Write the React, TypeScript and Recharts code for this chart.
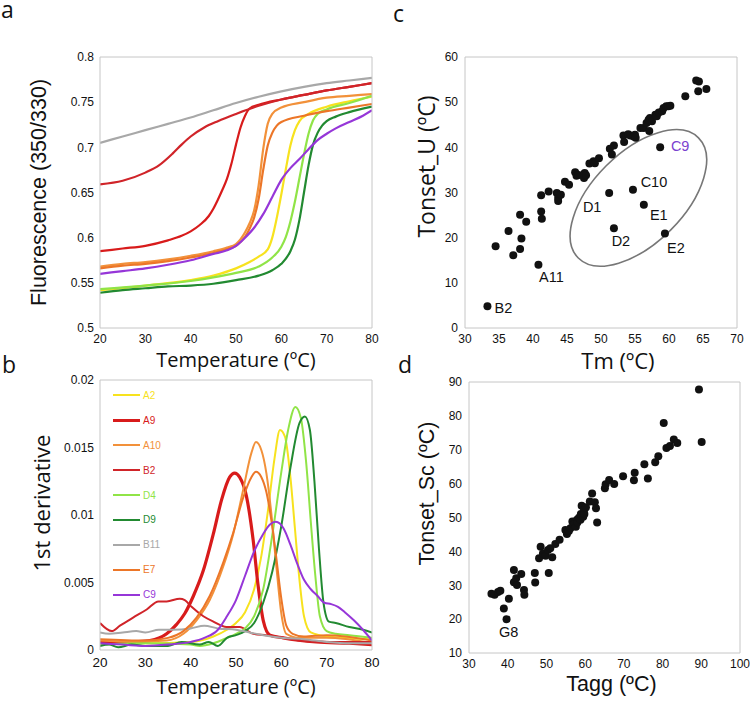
import React from "react";
import {
  LineChart,
  Line,
  ScatterChart,
  Scatter,
  XAxis,
  YAxis,
  ReferenceDot,
  Label,
} from "recharts";

type Pt = [number, number];

const sampleNames = ["A2", "A9", "A10", "B2", "D4", "D9", "B11", "E7", "C9"];

// a: fluorescence ratio 350/330 against temperature
const fluorA2: Pt[] = [[20, 0.542], [30, 0.547], [40, 0.553], [45, 0.558], [50, 0.566], [53, 0.573], [55, 0.579], [57, 0.587], [58, 0.6], [59, 0.622], [60, 0.648], [61, 0.676], [62, 0.702], [63, 0.719], [64, 0.729], [66, 0.737], [70, 0.745], [75, 0.751], [80, 0.756]];
const fluorA9: Pt[] = [[20, 0.585], [25, 0.588], [30, 0.591], [35, 0.597], [38, 0.602], [40, 0.607], [42, 0.614], [44, 0.624], [45, 0.632], [46, 0.642], [47, 0.653], [48, 0.665], [49, 0.682], [50, 0.703], [51, 0.722], [52, 0.735], [53, 0.743], [55, 0.747], [60, 0.753], [65, 0.758], [70, 0.763], [75, 0.767], [80, 0.771]];
const fluorA10: Pt[] = [[20, 0.568], [25, 0.571], [30, 0.573], [35, 0.576], [40, 0.58], [45, 0.585], [48, 0.589], [50, 0.593], [52, 0.606], [53, 0.616], [54, 0.63], [55, 0.658], [56, 0.698], [57, 0.726], [58, 0.737], [60, 0.744], [65, 0.75], [70, 0.755], [75, 0.757], [80, 0.759]];
const fluorB2: Pt[] = [[20, 0.659], [25, 0.663], [30, 0.672], [33, 0.68], [36, 0.693], [38, 0.703], [40, 0.712], [43, 0.722], [46, 0.729], [50, 0.737], [55, 0.746], [60, 0.753], [65, 0.758], [70, 0.763], [75, 0.767], [80, 0.771]];
const fluorD4: Pt[] = [[20, 0.543], [30, 0.547], [40, 0.552], [45, 0.556], [50, 0.561], [55, 0.568], [58, 0.578], [60, 0.59], [61, 0.601], [62, 0.618], [63, 0.64], [64, 0.666], [65, 0.692], [66, 0.715], [67, 0.73], [68, 0.737], [70, 0.742], [75, 0.749], [80, 0.757]];
const fluorD9: Pt[] = [[20, 0.539], [25, 0.542], [30, 0.544], [35, 0.546], [40, 0.547], [45, 0.549], [50, 0.553], [55, 0.558], [58, 0.564], [60, 0.571], [62, 0.585], [63, 0.598], [64, 0.62], [65, 0.65], [66, 0.68], [67, 0.703], [68, 0.716], [69, 0.724], [70, 0.729], [72, 0.734], [75, 0.739], [80, 0.745]];
const fluorB11: Pt[] = [[20, 0.705], [25, 0.712], [30, 0.719], [35, 0.726], [40, 0.733], [45, 0.741], [50, 0.749], [55, 0.756], [60, 0.762], [65, 0.767], [70, 0.771], [75, 0.774], [80, 0.777]];
const fluorE7: Pt[] = [[20, 0.566], [25, 0.569], [30, 0.571], [35, 0.574], [40, 0.578], [45, 0.583], [48, 0.587], [50, 0.591], [52, 0.601], [53, 0.61], [54, 0.622], [55, 0.643], [56, 0.675], [57, 0.702], [58, 0.716], [59, 0.724], [60, 0.728], [65, 0.735], [70, 0.74], [75, 0.744], [80, 0.748]];
const fluorC9: Pt[] = [[20, 0.56], [25, 0.563], [30, 0.566], [35, 0.57], [40, 0.575], [45, 0.582], [48, 0.586], [50, 0.591], [52, 0.6], [54, 0.611], [56, 0.626], [58, 0.645], [60, 0.664], [62, 0.677], [64, 0.687], [66, 0.698], [68, 0.708], [70, 0.715], [72, 0.721], [75, 0.728], [78, 0.735], [80, 0.741]];

// b: first derivative of the ratio
const derivA2: Pt[] = [[20, 0.0005], [30, 0.0005], [40, 0.0006], [45, 0.001], [48, 0.0015], [50, 0.002], [52, 0.0028], [54, 0.0045], [55.5, 0.0068], [57, 0.0102], [58.5, 0.0142], [59.7, 0.0163], [60.8, 0.0158], [62, 0.0128], [63, 0.009], [64, 0.0052], [65, 0.0025], [66.5, 0.0013], [70, 0.001], [80, 0.0008]];
const derivA9: Pt[] = [[20, 0.0006], [23.7, 0.0005], [27.3, 0.0006], [31, 0.0007], [34.7, 0.0012], [36.9, 0.0019], [38.7, 0.0027], [40.6, 0.004], [42.8, 0.0059], [45, 0.0086], [46.8, 0.0111], [48.6, 0.0128], [49.7, 0.0131], [50.8, 0.0128], [52.3, 0.0114], [53.8, 0.0081], [54.9, 0.0047], [56, 0.0022], [57.5, 0.0011], [60.4, 0.0009], [67.7, 0.0006], [75, 0.0005], [80, 0.0004]];
const derivA10: Pt[] = [[20, 0.0007], [27, 0.0006], [34.7, 0.0007], [38.4, 0.0012], [41.3, 0.0022], [44.2, 0.0037], [47.2, 0.0062], [49.4, 0.0086], [51.6, 0.0119], [53.4, 0.0146], [54.4, 0.0154], [55.6, 0.0148], [56.7, 0.0131], [57.8, 0.0101], [58.9, 0.0062], [60, 0.0027], [61.1, 0.0012], [64.1, 0.0009], [70, 0.0009], [80, 0.0005]];
const derivB2: Pt[] = [[20, 0.002], [22.6, 0.0014], [24.4, 0.0018], [27.3, 0.0024], [30.3, 0.003], [32.9, 0.0036], [34.7, 0.0036], [37.6, 0.0038], [38.7, 0.0037], [40.2, 0.0032], [42.8, 0.0025], [45, 0.0021], [47.9, 0.0017], [50.8, 0.0017], [53.8, 0.0012], [56.7, 0.0011], [60.4, 0.0009], [64, 0.0007], [67.7, 0.0006], [80, 0.0006]];
const derivD4: Pt[] = [[20, 0.0004], [30, 0.0005], [40, 0.0004], [42, 0.0003], [45, 0.0005], [48, 0.0009], [50, 0.0012], [52, 0.0016], [54, 0.0025], [56, 0.0045], [58, 0.0085], [60, 0.0132], [61.5, 0.0163], [63.1, 0.018], [64.3, 0.0172], [65.5, 0.0138], [66.5, 0.0095], [67.5, 0.0055], [68.5, 0.0025], [70, 0.0014], [72, 0.0012], [75, 0.0011], [80, 0.0009]];
const derivD9: Pt[] = [[20, 0.0003], [22, 0.0004], [24, 0.0002], [27, 0.0004], [30, 0.0003], [35, 0.0003], [38, 0.0006], [42, 0.0004], [44, 0.0006], [46, 0.0003], [48, 0.0009], [50, 0.0011], [52, 0.0014], [54, 0.002], [56, 0.0035], [58, 0.0058], [60, 0.0092], [62, 0.0135], [64, 0.0168], [65.2, 0.0173], [66.3, 0.0163], [67.3, 0.0125], [68.3, 0.0075], [69.3, 0.0035], [70.5, 0.0021], [72, 0.002], [75, 0.0017], [78, 0.0015], [80, 0.0013]];
const derivB11: Pt[] = [[20, 0.0013], [22, 0.0012], [25, 0.0013], [28, 0.0014], [30, 0.0013], [33, 0.0015], [36, 0.0015], [40, 0.0016], [43, 0.0018], [46, 0.0016], [50, 0.0015], [53, 0.0013], [56, 0.0011], [60, 0.0009], [65, 0.0008], [70, 0.0006], [75, 0.0005], [80, 0.0005]];
const derivE7: Pt[] = [[20, 0.0008], [30, 0.0007], [35, 0.0009], [38.4, 0.0014], [41.3, 0.0024], [44.2, 0.004], [47.2, 0.0065], [49.4, 0.0087], [51.6, 0.0113], [53.4, 0.0128], [54.4, 0.0132], [55.6, 0.0128], [56.7, 0.0117], [57.8, 0.0096], [58.9, 0.0068], [60, 0.0038], [61.1, 0.0018], [62.5, 0.0012], [65, 0.001], [70, 0.0011], [80, 0.0007]];
const derivC9: Pt[] = [[20, 0.0005], [25, 0.0004], [30, 0.0003], [35, 0.0004], [40, 0.0006], [43, 0.0009], [46, 0.0015], [48, 0.0025], [50, 0.0037], [52, 0.0055], [54, 0.0073], [56, 0.0086], [57.5, 0.0093], [58.8, 0.0095], [60.5, 0.009], [62, 0.0078], [63.5, 0.0064], [65, 0.0052], [66.5, 0.0045], [68, 0.004], [69.5, 0.0035], [71, 0.0034], [72.5, 0.0032], [74, 0.0028], [76, 0.0022], [78, 0.0015], [80, 0.0007]];

const fluorCurves = [fluorA2, fluorA9, fluorA10, fluorB2, fluorD4, fluorD9, fluorB11, fluorE7, fluorC9];
const derivCurves = [derivA2, derivA9, derivA10, derivB2, derivD4, derivD9, derivB11, derivE7, derivC9];

// c: Tonset_U against Tm
const tmTonset: Pt[] = [
  [34.5, 18.1], [36.4, 21.5], [37.1, 16.1], [38.1, 25.1], [38.1, 17.5], [38.3, 19.8], [39.0, 23.5],
  [41.2, 29.4], [41.2, 25.8], [41.3, 24.2], [42.3, 30.2], [43.5, 29.9], [43.7, 28.8], [43.7, 28.1],
  [44.1, 29.5], [44.7, 32.4], [45.3, 31.7], [46.2, 34.5], [46.4, 33.7], [46.7, 33.9], [47.6, 34.3],
  [47.5, 33.2], [47.8, 33.8], [48.3, 36.4], [48.9, 36.9], [49.1, 36.5], [49.7, 37.6], [51.3, 39.7],
  [51.6, 38.4], [51.9, 40.4], [53.3, 42.6], [53.4, 41.2], [54.0, 42.9], [54.3, 42.6], [54.8, 42.4],
  [55.0, 42.8], [55.1, 42.1], [55.8, 44.3], [56.3, 44.3], [56.7, 45.4], [57.0, 46.1], [57.1, 43.6],
  [57.2, 46.5], [57.5, 45.8], [58.0, 47.2], [58.2, 46.9], [58.5, 47.7], [59.0, 48.0], [59.2, 48.7],
  [59.6, 49.1], [59.9, 49.1], [60.2, 49.2], [62.4, 51.3], [64.0, 54.8], [64.4, 54.6], [64.3, 52.4],
  [65.5, 52.9],
];
const tmTonsetNamed: [string, number, number][] = [
  ["B2", 33.3, 4.8], ["A11", 40.8, 14.0], ["D1", 51.2, 29.9], ["D2", 51.9, 22.1],
  ["C10", 54.7, 30.6], ["E1", 56.3, 27.3], ["E2", 59.4, 20.9], ["C9", 58.7, 40.0],
];
const outlierCentre: Pt = [55.5, 28.8];

// d: Tonset_Sc against Tagg
const taggTonset: Pt[] = [
  [35.8, 27.5], [36.6, 27.2], [37.5, 28.0], [38.1, 28.4], [40.3, 26.0], [39.0, 23.1],
  [41.6, 34.5], [41.6, 30.9], [42.2, 32.1], [42.4, 30.1], [43.5, 33.3], [44.2, 28.6], [44.3, 27.2],
  [47.0, 33.6], [47.1, 30.8], [48.1, 38.0], [48.5, 41.4], [49.1, 39.4], [49.8, 38.7], [50.4, 40.4],
  [50.6, 33.6], [51.0, 40.9], [51.5, 38.3], [52.3, 42.2], [53.4, 43.4], [54.9, 46.3], [55.3, 45.1],
  [55.8, 46.0], [56.2, 46.8], [56.7, 48.8], [57.0, 48.0], [57.3, 48.3], [57.6, 47.3], [57.9, 49.3],
  [58.0, 48.5], [58.4, 49.9], [58.8, 49.3], [58.9, 51.0], [59.1, 53.5], [59.5, 50.2], [59.7, 52.2],
  [59.8, 51.0], [60.2, 53.0], [61.2, 54.7], [61.8, 57.1], [62.5, 54.5], [62.8, 52.7], [63.1, 48.5],
  [65.1, 58.6], [65.3, 59.8], [66.2, 61.1], [67.5, 59.9], [69.8, 62.2], [72.6, 61.0], [72.8, 63.2],
  [75.3, 65.7], [76.2, 61.5], [78.1, 66.3], [78.9, 68.1], [80.3, 77.9], [81.0, 70.5], [81.9, 71.1],
  [82.9, 73.0], [83.8, 72.0], [89.4, 87.8], [90.1, 72.3],
];
const taggTonsetNamed: [string, number, number][] = [["G8", 39.7, 20.0]];

const tempTicks = [20, 30, 40, 50, 60, 70, 80];
const fluorTicks = [0.5, 0.55, 0.6, 0.65, 0.7, 0.75, 0.8];
const derivTicks = [0, 0.005, 0.01, 0.015, 0.02];
const tmTicks = [30, 35, 40, 45, 50, 55, 60, 65, 70];
const tonsetUTicks = [0, 10, 20, 30, 40, 50, 60];
const taggTicks = [30, 40, 50, 60, 70, 80, 90, 100];
const tonsetScTicks = [10, 20, 30, 40, 50, 60, 70, 80, 90];

const COLORS: Record<string, string> = {
  A2: "#f7e21e",
  A9: "#d81b1b",
  A10: "#f2913a",
  B2: "#d02429",
  D4: "#90e447",
  D9: "#228a31",
  B11: "#a8a8a8",
  E7: "#ec7628",
  C9: "#9636d8",
};
const LABEL_COLORS: Record<string, string> = { C9: "#7a42cf" };
// label offsets from the dot centre, px
const LABEL_OFFSETS: Record<string, Pt> = {
  B2: [16, 2], A11: [13, 12], D1: [-17, 14], D2: [7, 13], C10: [21, -8],
  E1: [15, 10], E2: [11, 14], C9: [20, -1], G8: [2, 13],
};

const FRAME = "#c6c6c6";
const TICKLINE = "#a0a0a0";
const INK = "#111";
const SANS = "'Liberation Sans', Arial, sans-serif";
const MYRIAD = "'Open Sans', 'Noto Sans', sans-serif";

const rows = (pts: Pt[]) => pts.map(([t, v]) => ({ t, v }));
const xy = (pts: Pt[]) => pts.map(([x, y]) => ({ x, y }));
const named = (pts: [string, number, number][]) => pts.map(([name, x, y]) => ({ name, x, y }));

function frameAxes(xd: Pt, xt: number[], yd: Pt, yt: number[], tickLen: number) {
  const common = {
    type: "number" as const,
    allowDataOverflow: true,
    tick: false,
    interval: 0 as const,
    tickSize: tickLen,
    tickLine: tickLen > 0 ? { stroke: TICKLINE } : false,
    stroke: FRAME,
  };
  return [
    <XAxis key="xt" xAxisId="xt" orientation="top" mirror domain={xd} ticks={xt} {...common} />,
    <XAxis key="xb" xAxisId="xb" orientation="bottom" mirror domain={xd} ticks={xt} {...common} axisLine={false} />,
    <YAxis key="yr" yAxisId="yr" orientation="right" mirror domain={yd} ticks={yt} {...common} />,
    <YAxis key="yl" yAxisId="yl" orientation="left" mirror domain={yd} ticks={yt} {...common} axisLine={false} />,
  ];
}

const dotShape = (p: any) => <circle cx={p.cx} cy={p.cy} r={4} fill={INK} />;
const namedDotShape = (p: any) => {
  const name = p.payload?.name ?? "";
  const off = LABEL_OFFSETS[name] ?? [10, 0];
  return (
    <g>
      <circle cx={p.cx} cy={p.cy} r={4} fill={INK} />
      <text
        x={p.cx + off[0]}
        y={p.cy + off[1]}
        textAnchor="middle"
        dominantBaseline="central"
        fontSize={14.5}
        fontFamily={SANS}
        fill={LABEL_COLORS[name] ?? INK}
      >
        {name}
      </text>
    </g>
  );
};

function PanelA() {
  return (
    <LineChart width={380} height={380} margin={{ top: 57, right: 8, bottom: 0, left: 0 }}>
      <XAxis xAxisId="x" dataKey="t" type="number" domain={[20, 80]} ticks={tempTicks} interval={0}
        allowDataOverflow height={52} tickLine={false} tickSize={0} tickMargin={6} stroke={FRAME}
        tick={{ fontSize: 12, fill: INK, fontFamily: SANS }}>
        <Label value="Temperature (ºC)" position="center" dy={6} fontSize={20} fontFamily={MYRIAD} fill={INK} />
      </XAxis>
      <YAxis yAxisId="y" type="number" domain={[0.5, 0.8]} ticks={fluorTicks} interval={0}
        allowDataOverflow width={100} tickLine={false} tickSize={0} tickMargin={6} stroke={FRAME}
        tick={{ fontSize: 12, fill: INK, fontFamily: SANS }}>
        <Label value="Fluorescence (350/330)" angle={-90} position="center" dx={-12} fontSize={21.5} fontFamily={SANS} fill={INK} />
      </YAxis>
      {frameAxes([20, 80], tempTicks, [0.5, 0.8], fluorTicks, 5)}
      {fluorCurves.map((pts, i) => (
        <Line key={sampleNames[i]} xAxisId="x" yAxisId="y" data={rows(pts)} dataKey="v" type="monotone"
          stroke={COLORS[sampleNames[i]]} strokeWidth={2.2} dot={false} isAnimationActive={false} />
      ))}
    </LineChart>
  );
}

function PanelB() {
  return (
    <LineChart width={380} height={361} margin={{ top: 40, right: 8, bottom: 0, left: 0 }}>
      <XAxis xAxisId="x" dataKey="t" type="number" domain={[20, 80]} ticks={tempTicks} interval={0}
        allowDataOverflow height={51} tickLine={false} tickSize={0} tickMargin={7} stroke={FRAME}
        tick={{ fontSize: 13.5, fill: INK, fontFamily: SANS }}>
        <Label value="Temperature (ºC)" position="center" dy={11} fontSize={20} fontFamily={MYRIAD} fill={INK} />
      </XAxis>
      <YAxis yAxisId="y" type="number" domain={[0, 0.02]} ticks={derivTicks} interval={0}
        allowDataOverflow width={100} tickLine={false} tickSize={0} tickMargin={6} stroke={FRAME}
        tick={{ fontSize: 12, fill: INK, fontFamily: SANS }}>
        <Label value="1st derivative" angle={-90} position="center" dx={-8} dy={-12} fontSize={22} fontFamily={MYRIAD} fill={INK} />
      </YAxis>
      {frameAxes([20, 80], tempTicks, [0, 0.02], derivTicks, 5)}
      {derivCurves.map((pts, i) => (
        <Line key={sampleNames[i]} xAxisId="x" yAxisId="y" data={rows(pts)} dataKey="v" type="monotone"
          stroke={COLORS[sampleNames[i]]} strokeWidth={sampleNames[i] === "A9" ? 3.2 : 2}
          dot={false} isAnimationActive={false} />
      ))}
    </LineChart>
  );
}

function PanelC() {
  return (
    <ScatterChart width={370} height={380} margin={{ top: 57, right: 13, bottom: 0, left: 0 }}>
      <XAxis xAxisId="x" dataKey="x" type="number" domain={[30, 70]} ticks={tmTicks} interval={0}
        allowDataOverflow height={52} tickLine={false} tickSize={0} tickMargin={6} stroke={FRAME}
        tick={{ fontSize: 12, fill: INK, fontFamily: SANS }}>
        <Label value="Tm (ºC)" position="center" dx={17} dy={7} fontSize={22} fontFamily={MYRIAD} fill={INK} />
      </XAxis>
      <YAxis yAxisId="y" dataKey="y" type="number" domain={[0, 60]} ticks={tonsetUTicks} interval={0}
        allowDataOverflow width={85} tickLine={false} tickSize={0} tickMargin={7} stroke={FRAME}
        tick={{ fontSize: 12, fill: INK, fontFamily: SANS }}>
        <Label value="Tonset_U (ºC)" angle={-90} position="center" dx={4} dy={-26} fontSize={23} fontFamily={MYRIAD} fill={INK} />
      </YAxis>
      {frameAxes([30, 70], tmTicks, [0, 60], tonsetUTicks, 0)}
      <ReferenceDot xAxisId="x" yAxisId="y" x={outlierCentre[0]} y={outlierCentre[1]} ifOverflow="visible"
        shape={(p: any) => (
          <ellipse cx={p.cx} cy={p.cy} rx={85} ry={45.5} fill="none" stroke="#777" strokeWidth={1.6}
            transform={`rotate(-45 ${p.cx} ${p.cy})`} />
        )} />
      <Scatter xAxisId="x" yAxisId="y" data={xy(tmTonset)} shape={dotShape} isAnimationActive={false} />
      <Scatter xAxisId="x" yAxisId="y" data={named(tmTonsetNamed)} shape={namedDotShape} isAnimationActive={false} />
    </ScatterChart>
  );
}

function PanelD() {
  return (
    <ScatterChart width={370} height={361} margin={{ top: 42, right: 10, bottom: 0, left: 0 }}>
      <XAxis xAxisId="x" dataKey="x" type="number" domain={[30, 100]} ticks={taggTicks} interval={0}
        allowDataOverflow height={48} tickLine={false} tickSize={0} tickMargin={6} stroke={FRAME}
        tick={{ fontSize: 12, fill: INK, fontFamily: SANS }}>
        <Label value="Tagg (ºC)" position="center" dx={7} dy={6} fontSize={21.5} fontFamily={SANS} fill={INK} />
      </XAxis>
      <YAxis yAxisId="y" dataKey="y" type="number" domain={[10, 90]} ticks={tonsetScTicks} interval={0}
        allowDataOverflow width={89} tickLine={false} tickSize={0} tickMargin={7} stroke={FRAME}
        tick={{ fontSize: 12, fill: INK, fontFamily: SANS }}>
        <Label value="Tonset_Sc (ºC)" angle={-90} position="center" dx={2} dy={-24} fontSize={21.5} fontFamily={SANS} fill={INK} />
      </YAxis>
      {frameAxes([30, 100], taggTicks, [10, 90], tonsetScTicks, 0)}
      <Scatter xAxisId="x" yAxisId="y" data={xy(taggTonset)} shape={dotShape} isAnimationActive={false} />
      <Scatter xAxisId="x" yAxisId="y" data={named(taggTonsetNamed)} shape={namedDotShape} isAnimationActive={false} />
    </ScatterChart>
  );
}

function DerivLegend() {
  return (
    <div style={{ position: "absolute", left: 113, top: 383 }}>
      {sampleNames.map((name) => (
        <div key={name} style={{ display: "flex", alignItems: "center", height: 24.9 }}>
          <div style={{ width: 27, height: name === "A9" ? 3 : 2, background: COLORS[name] }} />
          <span style={{ marginLeft: 3, fontSize: 10, fontFamily: SANS, color: COLORS[name] }}>{name}</span>
        </div>
      ))}
    </div>
  );
}

export default function App() {
  return (
    <div style={{ position: "absolute", left: 0, top: 0, width: 750, height: 701, background: "#fff", overflow: "hidden" }}>
      <div style={{ position: "absolute", left: 0, top: 0 }}><PanelA /></div>
      <div style={{ position: "absolute", left: 0, top: 340 }}><PanelB /></div>
      <div style={{ position: "absolute", left: 380, top: 0 }}><PanelC /></div>
      <div style={{ position: "absolute", left: 380, top: 340 }}><PanelD /></div>
      <DerivLegend />
      <svg width={750} height={701} style={{ position: "absolute", left: 0, top: 0, pointerEvents: "none" }}>
        <g fontFamily={MYRIAD} fontSize={23} fill={INK}>
          <text x={1} y={18}>a</text>
          <text x={2} y={373}>b</text>
          <text x={393} y={22}>c</text>
          <text x={398} y={373}>d</text>
        </g>
      </svg>
    </div>
  );
}
